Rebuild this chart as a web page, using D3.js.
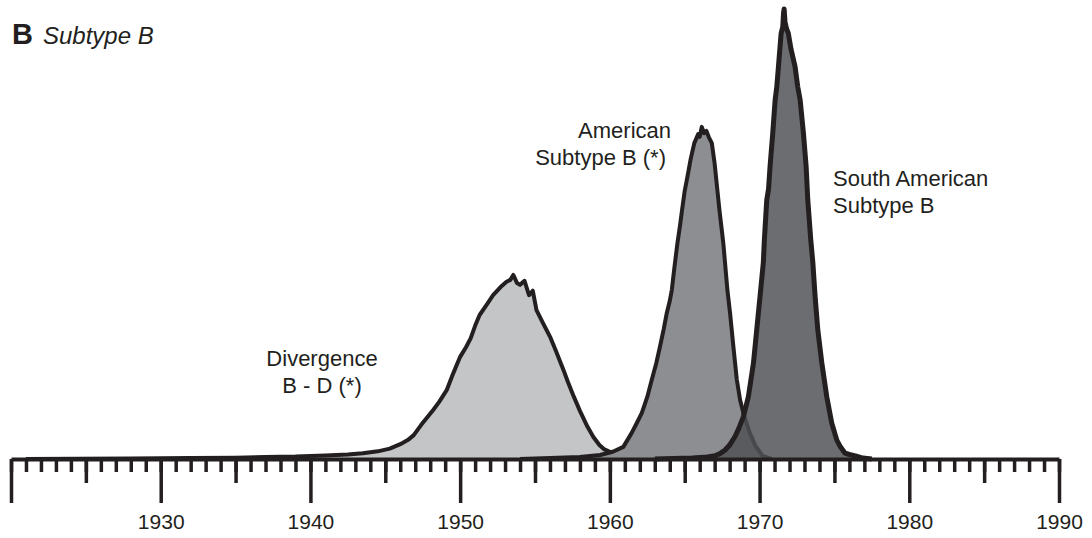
<!DOCTYPE html>
<html>
<head>
<meta charset="utf-8">
<script src="https://cdn.jsdelivr.net/npm/d3@7"></script>
<style>
    body { margin: 0; background: #fff; }
    text { font-family: "Liberation Sans", Arial, Helvetica, sans-serif; fill: #231f20; }
</style>
</head>
<body>
<div id="chart"></div>
<script>
// posterior densities of the dates (relative, peak of South American = 100)
var divergenceYears = [1921, 1928, 1932, 1935, 1937, 1939, 1941, 1942.5, 1943.5, 1944.5, 1945.3, 1946, 1946.5, 1946.9,
    1947.4, 1948.2, 1948.6, 1949.1, 1949.5, 1950, 1950.4, 1950.7, 1951, 1951.3, 1951.8, 1952.2, 1952.7, 1953.1,
    1953.35, 1953.55, 1953.8, 1954, 1954.3, 1954.6, 1954.85, 1955.1, 1955.5, 1956, 1956.4, 1956.9, 1957.2, 1957.6,
    1958, 1958.5, 1958.9, 1959.3, 1959.6, 1960, 1960.5, 1961, 1962, 1963.5, 1965];
var divergenceDensity = [0, 0.1, 0.2, 0.3, 0.45, 0.55, 0.8, 1.0, 1.3, 1.7, 2.3, 3.3, 4.2, 5.3,
    7.6, 10.9, 12.7, 15.3, 18.7, 22.7, 24.9, 26.8, 29.6, 32, 34.4, 36.4, 38.2, 39.4,
    39.8, 40.9, 39.1, 38.7, 39.6, 36.4, 37.4, 33.1, 30.4, 27.2, 24, 19.8, 17.1, 13.8,
    10.7, 7.2, 4.9, 3.1, 2.2, 1.6, 1.1, 0.7, 0.3, 0.1, 0];

var americanYears = [1954, 1956, 1958, 1959.35, 1960.2, 1960.9, 1961.46, 1961.8, 1962.13, 1962.5, 1962.8, 1963.1,
    1963.35, 1963.6, 1963.8, 1964, 1964.14, 1964.3, 1964.51, 1964.7, 1964.82, 1965, 1965.18, 1965.4, 1965.64,
    1965.9, 1966, 1966.14, 1966.3, 1966.45, 1966.6, 1966.81, 1967, 1967.09, 1967.32, 1967.45, 1967.58, 1967.85,
    1968.03, 1968.25, 1968.48, 1968.7, 1968.92, 1969.3, 1969.7, 1970.2, 1970.8];
var americanDensity = [0, 0.2, 0.45, 0.9, 1.6, 2.7, 5.8, 8.0, 10.2, 13.8, 17.6, 21.3,
    25.0, 28.9, 32.4, 35.1, 37.6, 42.2, 47.9, 52.2, 55.3, 59.6, 62.7, 66.7, 70.2,
    72.2, 71.6, 73.8, 72.4, 72.9, 71.6, 70.2, 65.6, 62.7, 55.3, 51.6, 47.9, 37.6,
    32.4, 25.0, 17.6, 13.1, 10.2, 6.2, 3.1, 0.7, 0];

var southYears = [1963, 1965.5, 1966.5, 1967.03, 1967.4, 1967.7, 1968, 1968.36, 1968.6, 1968.92, 1969.25, 1969.59,
    1969.81, 1970.03, 1970.25, 1970.32, 1970.48, 1970.6, 1970.7, 1970.88, 1971.04, 1971.15, 1971.26, 1971.44,
    1971.55, 1971.6, 1971.64, 1971.7, 1971.8, 1971.92, 1972.1, 1972.37, 1972.55, 1972.71, 1972.93, 1973.11,
    1973.22, 1973.42, 1973.56, 1973.71, 1973.89, 1974.16, 1974.49, 1974.82, 1975.16, 1975.4, 1975.71, 1976,
    1976.4, 1976.9, 1977.5];
var southDensity = [0, 0.2, 0.45, 0.7, 1.3, 2.0, 3.1, 5.0, 6.7, 9.4, 13.8, 21.3,
    28.7, 36.1, 43.6, 48.7, 57.6, 60, 65, 72.4, 79.8, 82.7, 87.2, 94.6,
    96, 99.1, 100, 97.1, 95.6, 94.6, 91.1, 87.2, 82.7, 79.8, 72.4, 65,
    57.6, 48.7, 43.6, 36.1, 28.7, 21.3, 13.8, 8, 4.2, 2.7, 1.3, 1.0,
    0.7, 0.2, 0];

var majorTicks = [1920, 1930, 1940, 1950, 1960, 1970, 1980, 1990];
var midTicks = [1925, 1935, 1945, 1955, 1965, 1975, 1985];
var minorTicks = d3.range(1920, 1991);

var w = 1092,
    h = 538;

var ink = "#231f20";

var svg = d3.select("#chart")
    .append("svg")
    .attr("width", w)
    .attr("height", h);

var x = d3.scaleLinear().domain([1920, 1990]).range([11, 1059]),
    y = d3.scaleLinear().domain([0, 100]).range([459, 9]);

function zip(years, vals) {
    return years.map(function (yr, i) { return { year: yr, v: vals[i] }; });
}

var area = d3.area()
    .x(function (d) { return x(d.year); })
    .y0(y(0))
    .y1(function (d) { return y(d.v); });

var line = d3.line()
    .x(function (d) { return x(d.year); })
    .y(function (d) { return y(d.v); });

var series = [
    { data: zip(divergenceYears, divergenceDensity), fill: "#c4c5c7", opacity: 1, sw: 4 },
    { data: zip(americanYears, americanDensity), fill: "#8d8e92", opacity: 1, sw: 4 },
    { data: zip(southYears, southDensity), fill: "#505155", opacity: 0.84, sw: 5 }
];

series.forEach(function (s) {
    svg.append("path")
        .attr("d", area(s.data))
        .attr("fill", s.fill)
        .attr("fill-opacity", s.opacity);
    svg.append("path")
        .attr("d", line(s.data))
        .attr("fill", "none")
        .attr("stroke", ink)
        .attr("stroke-width", s.sw)
        .attr("stroke-linejoin", "round");
});

// axis: three layers of ticks (1, 5 and 10 years)
var minorAxis = svg.append("g")
    .attr("transform", "translate(0," + y(0) + ")")
    .call(d3.axisBottom(x).tickValues(minorTicks).tickSize(13).tickFormat(""));

var midAxis = svg.append("g")
    .attr("transform", "translate(0," + y(0) + ")")
    .call(d3.axisBottom(x).tickValues(midTicks).tickSize(24).tickFormat(""));

var majorAxis = svg.append("g")
    .attr("transform", "translate(0," + y(0) + ")")
    .call(d3.axisBottom(x).tickValues(majorTicks).tickSize(44).tickSizeOuter(0).tickPadding(11)
        .tickFormat(function (d) { return d === 1920 ? "" : d; }));

minorAxis.select(".domain").remove();
midAxis.select(".domain").remove();

svg.selectAll(".tick line")
    .style("stroke", ink)
    .style("stroke-width", "3.5px");

majorAxis.select(".domain")
    .style("stroke", ink)
    .style("stroke-width", "4px");

majorAxis.selectAll("text")
    .attr("fill", ink)
    .style("font-family", '"Liberation Sans", Arial, sans-serif')
    .style("font-size", "21px");

// panel title
svg.append("text")
    .attr("x", 12)
    .attr("y", 44)
    .style("font-size", "29px")
    .style("font-weight", "bold")
    .text("B");

svg.append("text")
    .attr("x", 43)
    .attr("y", 44)
    .style("font-size", "24px")
    .style("font-style", "italic")
    .text("Subtype B");

// labels next to each peak
var labels = [
    { lines: ["American", "Subtype B (*)"], x: [671, 666], y: 138, anchor: "end" },
    { lines: ["South American", "Subtype B"], x: [833, 833], y: 186, anchor: "start" },
    { lines: ["Divergence", "B - D (*)"], x: [322, 322], y: 366, anchor: "middle" }
];

labels.forEach(function (l) {
    l.lines.forEach(function (t, i) {
        svg.append("text")
            .attr("x", l.x[i])
            .attr("y", l.y + i * 26.5)
            .attr("text-anchor", l.anchor)
            .style("font-size", "22px")
            .text(t);
    });
});
</script>
</body>
</html>
